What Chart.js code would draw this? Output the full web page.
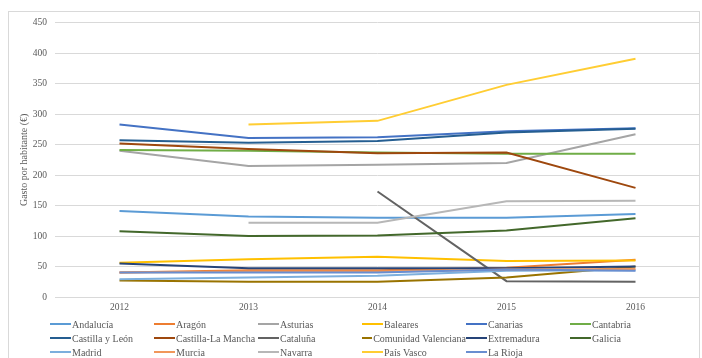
<!DOCTYPE html>
<html>
<head>
<meta charset="utf-8">
<script src="https://cdn.jsdelivr.net/npm/chart.js@4"></script>
<style>
    body { margin: 0; background: #fff; }
    #frame {
        position: absolute; left: 8px; top: 11px; width: 692px; height: 360px;
        border: 1px solid #d9d9d9; box-sizing: border-box;
    }
    #chart { position: absolute; left: 0; top: 9px; }
    #legend {
        position: absolute; left: 50px; top: 317px;
        display: grid; grid-template-columns: repeat(6, 104px); grid-auto-rows: 14px;
        font-family: "Liberation Serif", serif; font-size: 10px; color: #595959;
    }
    .item { display: flex; align-items: center; white-space: nowrap; }
    .swatch { width: 21px; height: 2px; margin-right: 1px; }
</style>
</head>
<body>
<div id="frame"></div>
<canvas id="chart" width="700" height="340"></canvas>
<div id="legend"></div>
<script>
const years = ['2012', '2013', '2014', '2015', '2016'];

// Gasto por habitante (€) by region
const andalucia = [141, 132, 130, 130, 136];
const aragon = [40, 44, 44, 48, 61];
const asturias = [240, 215, 217, 220, 267];
const baleares = [56, 62, 66, 59, 60];
const canarias = [283, 261, 262, 272, 277];
const cantabria = [241, 240, 237, 235, 235];
const castillaLeon = [257, 253, 256, 270, 276];
const castillaMancha = [252, 243, 236, 237, 179];
const cataluna = [null, null, 173, 26, 25];
const valenciana = [27, 25, 25, 32, 50];
const extremadura = [55, 47, 47, 47, 50];
const galicia = [108, 100, 101, 109, 129];
const madrid = [29, 32, 35, 43, 44];
const murcia = [40, 42, 42, 45, 46];
const navarra = [null, 122, 122, 157, 158];
const paisVasco = [null, 283, 289, 348, 391];
const rioja = [40, 40, 40, 45, 43];

const seriesNames = ['Andalucía', 'Aragón', 'Asturias', 'Baleares', 'Canarias', 'Cantabria',
    'Castilla y León', 'Castilla-La Mancha', 'Cataluña', 'Comunidad Valenciana', 'Extremadura', 'Galicia',
    'Madrid', 'Murcia', 'Navarra', 'País Vasco', 'La Rioja'];
const seriesData = [andalucia, aragon, asturias, baleares, canarias, cantabria,
    castillaLeon, castillaMancha, cataluna, valenciana, extremadura, galicia,
    madrid, murcia, navarra, paisVasco, rioja];
const seriesColors = ['#5b9bd5', '#ed7d31', '#a5a5a5', '#ffc000', '#4472c4', '#70ad47',
    '#255e91', '#9e480e', '#636363', '#997300', '#264478', '#43682b',
    '#7cafdd', '#f1975a', '#b7b7b7', '#ffcd33', '#698ed0'];

const yTicks = [0, 50, 100, 150, 200, 250, 300, 350, 400, 450];

const serif = 'Liberation Serif';

const datasets = seriesNames.map((name, i) => ({
    label: name,
    data: seriesData[i],
    borderColor: seriesColors[i],
    backgroundColor: seriesColors[i],
    borderWidth: 2,
    pointRadius: 0,
    tension: 0,
    order: seriesNames.length - i
}));

new Chart(document.getElementById('chart'), {
    type: 'line',
    data: { labels: years, datasets: datasets },
    options: {
        responsive: false,
        animation: false,
        layout: { padding: { left: 18, top: 3, right: 0, bottom: 0 } },
        plugins: {
            legend: { display: false },
            tooltip: { enabled: false }
        },
        scales: {
            x: {
                offset: true,
                grid: { display: false, drawTicks: false },
                border: { color: '#d9d9d9', width: 1 },
                ticks: { color: '#595959', font: { family: serif, size: 9.5 }, padding: 5 },
                afterFit: (scale) => { scale.height = 52; }
            },
            y: {
                min: 0,
                max: 450,
                afterBuildTicks: (scale) => { scale.ticks = yTicks.map(v => ({ value: v })); },
                grid: { color: '#d9d9d9', lineWidth: 1, drawTicks: false },
                border: { display: false },
                ticks: { color: '#595959', font: { family: serif, size: 9.5 }, padding: 8 },
                title: {
                    display: true,
                    text: 'Gasto por habitante (€)',
                    color: '#595959',
                    font: { family: serif, size: 10 },
                    padding: 0
                },
                afterFit: (scale) => { scale.width = 37; }
            }
        }
    }
});

// Legend in six columns, like the original
const legendEl = document.getElementById('legend');
seriesNames.forEach((name, i) => {
    const item = document.createElement('div');
    item.className = 'item';
    const sw = document.createElement('span');
    sw.className = 'swatch';
    sw.style.background = seriesColors[i];
    item.appendChild(sw);
    item.appendChild(document.createTextNode(name));
    legendEl.appendChild(item);
});
</script>
</body>
</html>
